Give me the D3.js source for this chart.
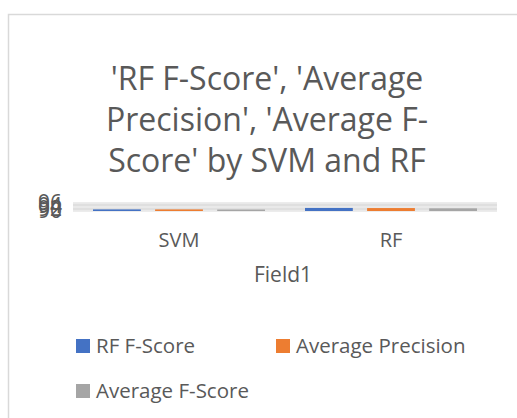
<!DOCTYPE html>
<html>
<head>
<meta charset="utf-8">
<script src="https://cdn.jsdelivr.net/npm/d3@7"></script>
<style>
  body { margin: 0; background: #fff; }
  text { font-family: "Open Sans", "Noto Sans", sans-serif; fill: #595959; }
</style>
</head>
<body>
<div id="chart"></div>
<script>
// chart data
var categories = ["SVM", "RF"];
var seriesNames = ["RF F-Score", "Average Precision", "Average F-Score"];
var seriesColors = ["#4472c4", "#ed7d31", "#a5a5a5"];
var rfFScore = [91.2, 92.3];
var avgPrecision = [91.2, 92.2];
var avgFScore = [91.1, 92.0];
var yTicks = [90, 92, 94, 96];
var titleLines = ["'RF F-Score', 'Average", "Precision', 'Average F-", "Score' by SVM and RF"];

var svgWidth = 517, svgHeight = 418;
var margin = { top: 203, left: 73, right: 20, bottom: 207 };
var width = svgWidth - margin.left - margin.right;
var height = svgHeight - margin.top - margin.bottom;

var svg = d3.select("#chart").append("svg")
  .attr("width", svgWidth)
  .attr("height", svgHeight);

// chart frame
svg.append("path")
  .attr("d", "M8.5,418 L8.5,14.5 L517,14.5")
  .attr("fill", "none")
  .attr("stroke", "#d9d9d9")
  .attr("stroke-width", 1.5);

// title
svg.append("text")
  .attr("text-anchor", "middle")
  .style("font-size", "32px")
  .selectAll("tspan")
  .data(titleLines)
  .enter()
  .append("tspan")
  .attr("x", 267)
  .attr("y", (d, i) => 90 + i * 41)
  .text(d => d);

var chartGroup = svg.append("g")
  .attr("transform", `translate(${margin.left}, ${margin.top})`);

var x0 = d3.scaleBand().domain(categories).range([0, width]);
var x1 = d3.scaleBand().domain(seriesNames)
  .range([20, x0.bandwidth() - 20]).paddingInner(0.23);
var yScale = d3.scaleLinear().domain([90, 96]).range([height, 0]);

// gridlines
chartGroup.append("g")
  .selectAll("line")
  .data(d3.range(90, 96.5, 1))
  .enter()
  .append("line")
  .attr("x1", 0)
  .attr("x2", width)
  .attr("y1", d => yScale(d))
  .attr("y2", d => yScale(d))
  .attr("stroke", "#d9d9d9")
  .attr("stroke-width", 1);

// y labels (they collide, like the original)
var leftAxis = d3.axisLeft(yScale).tickValues(yTicks)
  .tickFormat(d3.format("d")).tickSize(0).tickPadding(11);
chartGroup.append("g").call(leftAxis)
  .call(g => g.select(".domain").remove())
  .selectAll("text")
  .style("font-size", "21px")
  .attr("fill", "#595959");

// bars
var rows = categories.map((c, i) => ({
  cat: c,
  vals: [rfFScore[i], avgPrecision[i], avgFScore[i]]
}));

chartGroup.selectAll(".grp")
  .data(rows)
  .enter()
  .append("g")
  .attr("transform", d => `translate(${x0(d.cat)},0)`)
  .selectAll("rect")
  .data(d => d.vals.map((v, j) => ({ name: seriesNames[j], v: v, c: seriesColors[j] })))
  .enter()
  .append("rect")
  .attr("x", d => x1(d.name))
  .attr("width", x1.bandwidth())
  .attr("y", d => yScale(d.v))
  .attr("height", d => yScale(90) - yScale(d.v))
  .attr("fill", d => d.c);

// x labels
var bottomAxis = d3.axisBottom(x0).tickSize(0).tickPadding(22);
chartGroup.append("g")
  .attr("transform", `translate(0, ${height})`)
  .call(bottomAxis)
  .call(g => g.select(".domain").remove())
  .selectAll("text")
  .style("font-size", "20px")
  .attr("fill", "#595959");

svg.append("text")
  .attr("x", 283)
  .attr("y", 282)
  .attr("text-anchor", "middle")
  .style("font-size", "21px")
  .text("Field1");

// legend
var legendPos = [[76, 339], [276, 339], [76, 384]];
var legend = svg.selectAll(".legend")
  .data(seriesNames)
  .enter()
  .append("g")
  .attr("transform", (d, i) => `translate(${legendPos[i][0]}, ${legendPos[i][1]})`);

legend.append("rect")
  .attr("width", 14)
  .attr("height", 14)
  .attr("fill", (d, i) => seriesColors[i]);

legend.append("text")
  .attr("x", 20)
  .attr("y", 14)
  .style("font-size", "20.5px")
  .text(d => d);
</script>
</body>
</html>
